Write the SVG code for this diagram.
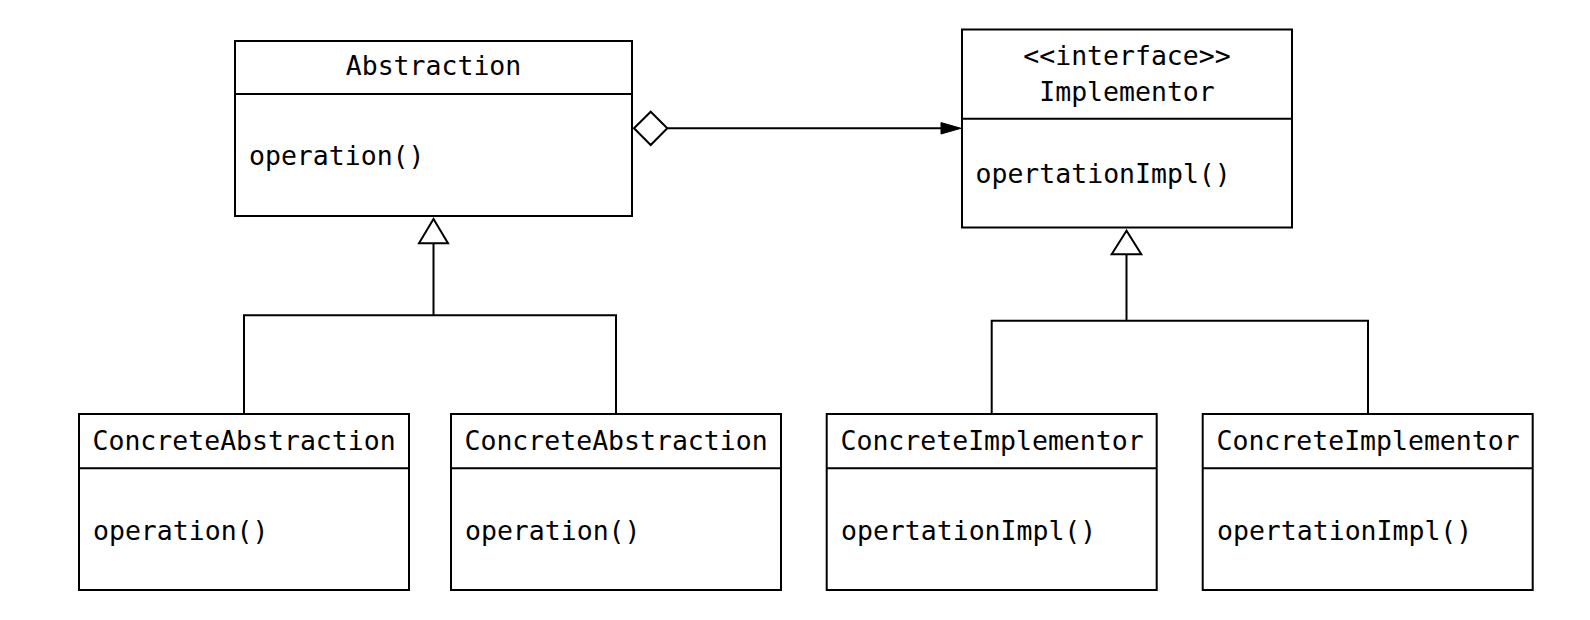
<svg xmlns="http://www.w3.org/2000/svg" width="1590" height="620" viewBox="0 0 1590 620">
  <style>
    .box { fill: #ffffff; stroke: #000000; stroke-width: 2; }
    .div { stroke: #000000; stroke-width: 2; }
    .t { font-family: "DejaVu Sans Mono", "Liberation Mono", monospace; font-size: 26.5px; fill: #000000; }
    .c { text-anchor: middle; }
    .ln { fill: none; stroke: #000000; stroke-width: 2; }
    .hollow { fill: #ffffff; stroke: #000000; stroke-width: 2; stroke-linejoin: miter; }
    .solid { fill: #000000; stroke: #000000; stroke-width: 1; }
  </style>
  <rect width="1590" height="620" fill="#ffffff"/>

  <g id="connectors">
    <line class="ln" x1="667.3" y1="128.3" x2="942" y2="128.3"/>
    <polygon class="hollow" points="634,128.3 650.7,111.7 667.3,128.3 650.7,145"/>
    <polygon class="solid" points="961,128.3 941,122.6 941,134"/>

    <polyline class="ln" points="433.5,243.3 433.5,315.3"/>
    <polyline class="ln" points="244,414 244,315.3 616,315.3 616,414"/>
    <polygon class="hollow" points="433.5,219 419,243.3 448,243.3"/>

    <polyline class="ln" points="1126.5,254.3 1126.5,320.7"/>
    <polyline class="ln" points="991.7,414 991.7,320.7 1368,320.7 1368,414"/>
    <polygon class="hollow" points="1126.5,230.7 1111.7,254.3 1141.3,254.3"/>
  </g>

  <g id="abstraction">
    <rect class="box" x="235" y="41" width="397" height="175"/>
    <line class="div" x1="235" y1="94" x2="632" y2="94"/>
    <text class="t c" x="433.5" y="75">Abstraction</text>
    <text class="t" x="249" y="165">operation()</text>
  </g>

  <g id="implementor">
    <rect class="box" x="962" y="29.5" width="330" height="198"/>
    <line class="div" x1="962" y1="118.7" x2="1292" y2="118.7"/>
    <text class="t c" x="1127" y="65">&lt;&lt;interface&gt;&gt;</text>
    <text class="t c" x="1127" y="101">Implementor</text>
    <text class="t" x="975.5" y="183">opertationImpl()</text>
  </g>

  <g id="concrete-abstraction-1">
    <rect class="box" x="79" y="414" width="330" height="176"/>
    <line class="div" x1="79" y1="468.3" x2="409" y2="468.3"/>
    <text class="t" x="92.5" y="450">ConcreteAbstraction</text>
    <text class="t" x="93" y="540">operation()</text>
  </g>

  <g id="concrete-abstraction-2">
    <rect class="box" x="451" y="414" width="330" height="176"/>
    <line class="div" x1="451" y1="468.3" x2="781" y2="468.3"/>
    <text class="t" x="464.5" y="450">ConcreteAbstraction</text>
    <text class="t" x="465" y="540">operation()</text>
  </g>

  <g id="concrete-implementor-1">
    <rect class="box" x="826.7" y="414" width="330" height="176"/>
    <line class="div" x1="826.7" y1="468.3" x2="1156.7" y2="468.3"/>
    <text class="t" x="840.5" y="450">ConcreteImplementor</text>
    <text class="t" x="841" y="540">opertationImpl()</text>
  </g>

  <g id="concrete-implementor-2">
    <rect class="box" x="1202.7" y="414" width="330" height="176"/>
    <line class="div" x1="1202.7" y1="468.3" x2="1532.7" y2="468.3"/>
    <text class="t" x="1216.5" y="450">ConcreteImplementor</text>
    <text class="t" x="1217" y="540">opertationImpl()</text>
  </g>
</svg>
